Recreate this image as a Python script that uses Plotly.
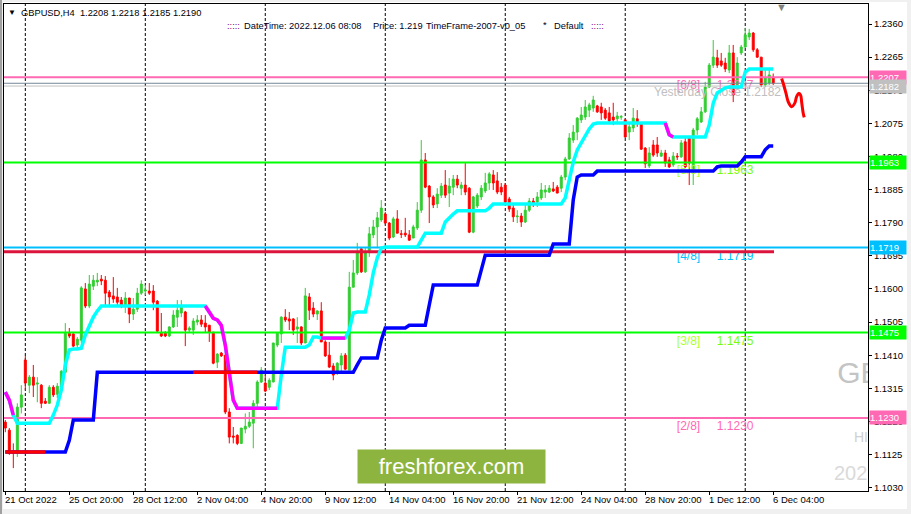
import plotly.graph_objects as go

# ---------------- data (GBPUSD H4, bar index 0 = 21 Oct 2022) ----------------
open_ = [
    1.1218, 1.1195, 1.1135, 1.1129, 1.1261, 1.1396, 1.1324, 1.1347, 1.1327, 1.1324,
    1.1278, 1.1272, 1.1318, 1.1298, 1.1318, 1.1361, 1.1473, 1.1471, 1.1439, 1.1453,
    1.1600, 1.1551, 1.1608, 1.1620, 1.1628, 1.1625, 1.1591, 1.1580, 1.1577, 1.1568,
    1.1554, 1.1574, 1.1528, 1.1542, 1.1588, 1.1594, 1.1594, 1.1594, 1.1565, 1.1473,
    1.1473, 1.1465, 1.1491, 1.1519, 1.1531, 1.1534, 1.1482, 1.1482, 1.1505, 1.1511,
    1.1502, 1.1496, 1.1476, 1.1390, 1.1416, 1.1410, 1.1247, 1.1178, 1.1180, 1.1157,
    1.1198, 1.1206, 1.1215, 1.1272, 1.1333, 1.1330, 1.1318, 1.1333, 1.1439, 1.1471,
    1.1519, 1.1514, 1.1514, 1.1485, 1.1491, 1.1445, 1.1577, 1.1545, 1.1528, 1.1537,
    1.1448, 1.1410, 1.1379, 1.1358, 1.1382, 1.1410, 1.1367, 1.1605, 1.1646, 1.1715,
    1.1649, 1.1706, 1.1755, 1.1778, 1.1798, 1.1815, 1.1789, 1.1749, 1.1801, 1.1758,
    1.1760, 1.1755, 1.1746, 1.1775, 1.1826, 1.1970, 1.1895, 1.1864, 1.1844, 1.1869,
    1.1898, 1.1875, 1.1892, 1.1915, 1.1889, 1.1898, 1.1889, 1.1763, 1.1838, 1.1864,
    1.1881, 1.1904, 1.1927, 1.1910, 1.1892, 1.1898, 1.1858, 1.1832, 1.1807, 1.1809,
    1.1792, 1.1826, 1.1852, 1.1849, 1.1861, 1.1878, 1.1878, 1.1887, 1.1892, 1.1889,
    1.1921, 1.1973, 1.2027, 1.2050, 1.2085, 1.2093, 1.2113, 1.2119, 1.2125, 1.2122,
    1.2113, 1.2105, 1.2093, 1.2088, 1.2093, 1.2085, 1.2050, 1.2062, 1.2088, 1.2076,
    1.2004, 1.1953, 1.2013, 1.2013, 1.1981, 1.1990, 1.1970, 1.1956, 1.1981, 1.1979,
    1.2022, 1.2033, 1.1941, 1.2056, 1.2079, 1.2108, 1.2179, 1.2242, 1.2263, 1.2254,
    1.2248, 1.2228, 1.2277, 1.2179, 1.2277, 1.2294, 1.2323, 1.2334, 1.2286, 1.2265,
    1.2185, 1.2191, 1.2208,
]
high_ = [
    1.1224, 1.1201, 1.1157, 1.1272, 1.1324, 1.1408, 1.1353, 1.1382, 1.1347, 1.1327,
    1.1287, 1.1324, 1.1324, 1.1330, 1.1367, 1.1502, 1.1488, 1.1473, 1.1462, 1.1608,
    1.1617, 1.1640, 1.1640, 1.1646, 1.1640, 1.1637, 1.1597, 1.1634, 1.1603, 1.1577,
    1.1591, 1.1574, 1.1574, 1.1603, 1.1625, 1.1611, 1.1617, 1.1611, 1.1568, 1.1531,
    1.1479, 1.1493, 1.1539, 1.1568, 1.1568, 1.1537, 1.1493, 1.1516, 1.1525, 1.1525,
    1.1525, 1.1496, 1.1476, 1.1416, 1.1419, 1.1410, 1.1258, 1.1204, 1.1183, 1.1201,
    1.1243, 1.1247, 1.1281, 1.1338, 1.1376, 1.1353, 1.1344, 1.1445, 1.1476, 1.1522,
    1.1542, 1.1534, 1.1516, 1.1519, 1.1493, 1.1603, 1.1588, 1.1562, 1.1539, 1.1562,
    1.1453, 1.1448, 1.1387, 1.1390, 1.1416, 1.1416, 1.1649, 1.1683, 1.1732, 1.1720,
    1.1717, 1.1778, 1.1798, 1.1821, 1.1855, 1.1821, 1.1792, 1.1807, 1.1826, 1.1769,
    1.1804, 1.1769, 1.1784, 1.1849, 1.2027, 1.1990, 1.1898, 1.1869, 1.1889, 1.1904,
    1.1941, 1.1918, 1.1927, 1.1927, 1.1907, 1.1961, 1.1892, 1.1867, 1.1875, 1.1898,
    1.1933, 1.1935, 1.1941, 1.1935, 1.1904, 1.1904, 1.1864, 1.1841, 1.1826, 1.1818,
    1.1841, 1.1861, 1.1861, 1.1878, 1.1904, 1.1898, 1.1898, 1.1907, 1.1898, 1.1927,
    1.1979, 1.2047, 1.2070, 1.2093, 1.2122, 1.2142, 1.2134, 1.2154, 1.2128, 1.2134,
    1.2119, 1.2122, 1.2134, 1.2108, 1.2099, 1.2088, 1.2076, 1.2119, 1.2113, 1.2076,
    1.2007, 1.2007, 1.2027, 1.2036, 1.1999, 1.1999, 1.1979, 1.1993, 1.1990, 1.2027,
    1.2036, 1.2036, 1.2062, 1.2093, 1.2122, 1.2194, 1.2248, 1.2314, 1.2286, 1.2277,
    1.2263, 1.2300, 1.2300, 1.2265, 1.2300, 1.2349, 1.2346, 1.2337, 1.2291, 1.2265,
    1.2228, 1.2228, 1.2218,
]
low_ = [
    1.1189, 1.1124, 1.1086, 1.1118, 1.1243, 1.1310, 1.1301, 1.1290, 1.1275, 1.1258,
    1.1270, 1.1270, 1.1290, 1.1287, 1.1315, 1.1358, 1.1459, 1.1433, 1.1425, 1.1445,
    1.1545, 1.1545, 1.1597, 1.1608, 1.1611, 1.1554, 1.1554, 1.1560, 1.1554, 1.1545,
    1.1531, 1.1502, 1.1511, 1.1534, 1.1583, 1.1583, 1.1583, 1.1539, 1.1476, 1.1462,
    1.1462, 1.1462, 1.1488, 1.1491, 1.1519, 1.1436, 1.1476, 1.1468, 1.1496, 1.1491,
    1.1476, 1.1448, 1.1384, 1.1373, 1.1405, 1.1241, 1.1157, 1.1157, 1.1152, 1.1155,
    1.1186, 1.1201, 1.1143, 1.1261, 1.1330, 1.1304, 1.1310, 1.1333, 1.1433, 1.1445,
    1.1505, 1.1482, 1.1468, 1.1445, 1.1439, 1.1445, 1.1511, 1.1519, 1.1511, 1.1448,
    1.1405, 1.1373, 1.1338, 1.1353, 1.1358, 1.1367, 1.1367, 1.1605, 1.1640, 1.1646,
    1.1646, 1.1692, 1.1746, 1.1717, 1.1792, 1.1784, 1.1740, 1.1746, 1.1760, 1.1746,
    1.1749, 1.1738, 1.1746, 1.1769, 1.1818, 1.1889, 1.1789, 1.1832, 1.1832, 1.1861,
    1.1861, 1.1835, 1.1869, 1.1889, 1.1869, 1.1869, 1.1760, 1.1760, 1.1832, 1.1855,
    1.1875, 1.1884, 1.1884, 1.1872, 1.1869, 1.1846, 1.1821, 1.1792, 1.1789, 1.1778,
    1.1789, 1.1821, 1.1835, 1.1835, 1.1855, 1.1861, 1.1875, 1.1878, 1.1875, 1.1878,
    1.1912, 1.1970, 1.2019, 1.2027, 1.2076, 1.2085, 1.2093, 1.2108, 1.2105, 1.2085,
    1.2085, 1.2076, 1.2070, 1.2076, 1.2085, 1.2033, 1.2027, 1.2050, 1.2065, 1.1999,
    1.1947, 1.1947, 1.1979, 1.1979, 1.1979, 1.1950, 1.1947, 1.1950, 1.1970, 1.1976,
    1.1947, 1.1898, 1.1898, 1.2042, 1.2076, 1.2105, 1.2176, 1.2234, 1.2234, 1.2237,
    1.2222, 1.2219, 1.2136, 1.2171, 1.2271, 1.2291, 1.2314, 1.2280, 1.2263, 1.2179,
    1.2179, 1.2185, 1.2185,
]
close_ = [
    1.1201, 1.1129, 1.1129, 1.1261, 1.1296, 1.1330, 1.1347, 1.1324, 1.1330, 1.1272,
    1.1272, 1.1318, 1.1296, 1.1321, 1.1364, 1.1473, 1.1465, 1.1436, 1.1456, 1.1603,
    1.1551, 1.1614, 1.1625, 1.1625, 1.1623, 1.1588, 1.1577, 1.1571, 1.1562, 1.1554,
    1.1574, 1.1528, 1.1542, 1.1588, 1.1614, 1.1597, 1.1588, 1.1562, 1.1479, 1.1465,
    1.1465, 1.1491, 1.1525, 1.1539, 1.1548, 1.1482, 1.1488, 1.1508, 1.1511, 1.1499,
    1.1491, 1.1476, 1.1387, 1.1413, 1.1408, 1.1247, 1.1175, 1.1175, 1.1157, 1.1201,
    1.1206, 1.1218, 1.1272, 1.1333, 1.1367, 1.1307, 1.1338, 1.1445, 1.1473, 1.1519,
    1.1511, 1.1508, 1.1482, 1.1491, 1.1445, 1.1580, 1.1539, 1.1528, 1.1537, 1.1448,
    1.1408, 1.1376, 1.1353, 1.1387, 1.1408, 1.1370, 1.1605, 1.1646, 1.1706, 1.1649,
    1.1706, 1.1758, 1.1778, 1.1804, 1.1832, 1.1789, 1.1746, 1.1801, 1.1760, 1.1757,
    1.1755, 1.1740, 1.1778, 1.1826, 1.1970, 1.1892, 1.1864, 1.1841, 1.1872, 1.1895,
    1.1869, 1.1895, 1.1915, 1.1898, 1.1898, 1.1878, 1.1763, 1.1864, 1.1869, 1.1889,
    1.1904, 1.1930, 1.1904, 1.1878, 1.1878, 1.1849, 1.1829, 1.1807, 1.1809, 1.1792,
    1.1826, 1.1852, 1.1846, 1.1864, 1.1884, 1.1884, 1.1889, 1.1881, 1.1875, 1.1921,
    1.1973, 1.2033, 1.2050, 1.2090, 1.2099, 1.2122, 1.2128, 1.2142, 1.2108, 1.2105,
    1.2090, 1.2082, 1.2085, 1.2096, 1.2094, 1.2036, 1.2065, 1.2090, 1.2076, 1.2001,
    1.1959, 1.1990, 1.1984, 1.1990, 1.1990, 1.1961, 1.1950, 1.1981, 1.1979, 1.2019,
    1.1950, 1.1961, 1.2056, 1.2088, 1.2108, 1.2179, 1.2242, 1.2265, 1.2242, 1.2242,
    1.2231, 1.2277, 1.2156, 1.2248, 1.2294, 1.2329, 1.2334, 1.2286, 1.2265, 1.2185,
    1.2205, 1.2214, 1.2190,
]
bar_index = list(range(len(close_)))

# trailing-line indicator (cyan, magenta while falling)
trail_line = [
    1.1304, 1.1281, 1.1238,
    1.1215, 1.1215, 1.1215, 1.1215, 1.1215, 1.1215, 1.1215, 1.1215, 1.1215,
    1.1238, 1.1267, 1.1310, 1.1382, 1.1425, 1.1428, 1.1428, 1.1430, 1.1468, 1.1496, 1.1519, 1.1537,
    1.1551, 1.1551, 1.1551, 1.1551, 1.1551, 1.1551, 1.1551, 1.1551, 1.1551, 1.1551,
    1.1551, 1.1551, 1.1551, 1.1551, 1.1551, 1.1551, 1.1551, 1.1551, 1.1551, 1.1551,
    1.1551, 1.1551, 1.1551, 1.1551, 1.1551, 1.1551, 1.1551,
    1.1534, 1.1516, 1.1511, 1.1496, 1.1439, 1.1353, 1.1281,
    1.1258, 1.1258, 1.1258, 1.1258, 1.1258, 1.1258, 1.1258, 1.1258, 1.1258, 1.1258, 1.1258,
    1.1353,
    1.1433, 1.1433, 1.1433, 1.1433, 1.1433, 1.1433,
    1.1439, 1.1462, 1.1462,
    1.1459, 1.1459, 1.1459, 1.1459, 1.1459, 1.1459, 1.1459,
    1.1482, 1.1531,
    1.1534, 1.1534, 1.1534,
    1.1583, 1.1646, 1.1689, 1.1717,
    1.1720, 1.1720, 1.1720, 1.1720, 1.1720, 1.1720, 1.1720, 1.1720, 1.1720,
    1.1740,
    1.1760, 1.1760, 1.1760, 1.1760, 1.1760,
    1.1792, 1.1804, 1.1815,
    1.1824, 1.1824, 1.1824, 1.1824, 1.1824, 1.1824, 1.1824, 1.1824,
    1.1832,
    1.1844, 1.1844, 1.1844, 1.1844, 1.1844, 1.1844, 1.1844, 1.1844, 1.1844,
    1.1844, 1.1844, 1.1844, 1.1844, 1.1844, 1.1844, 1.1844, 1.1844, 1.1844,
    1.1861, 1.1912, 1.1964, 1.1999, 1.2019, 1.2036, 1.2059, 1.2073,
    1.2076, 1.2076, 1.2076, 1.2076, 1.2076, 1.2076, 1.2076, 1.2076, 1.2076,
    1.2076, 1.2076, 1.2076, 1.2076, 1.2076, 1.2076, 1.2076, 1.2076, 1.2076,
    1.2042,
    1.2036, 1.2036, 1.2036, 1.2036, 1.2036, 1.2036, 1.2036, 1.2036, 1.2036,
    1.2070, 1.2133, 1.2162, 1.2171, 1.2177,
    1.2179, 1.2179, 1.2179, 1.2179,
    1.2222,
    1.2231, 1.2231, 1.2231, 1.2231, 1.2231, 1.2231, 1.2231,
]
trail_down_ranges = [(0, 2), (50, 68), (79, 85), (165, 167)]

# step indicator (blue, red while in sell state)
step_line = [
    1.1132, 1.1132, 1.1132, 1.1132, 1.1132, 1.1132, 1.1132, 1.1132,
    1.1132, 1.1132, 1.1132, 1.1132, 1.1132, 1.1132, 1.1132, 1.1132,
    1.1166,
    1.1224, 1.1224, 1.1224, 1.1224, 1.1224, 1.1224,
    1.1361, 1.1361, 1.1361, 1.1361, 1.1361, 1.1361, 1.1361, 1.1361, 1.1361, 1.1361,
    1.1361, 1.1361, 1.1361, 1.1361, 1.1361, 1.1361, 1.1361, 1.1361, 1.1361, 1.1361,
    1.1361, 1.1361, 1.1361, 1.1361, 1.1361, 1.1361, 1.1361, 1.1361, 1.1361, 1.1361,
    1.1361, 1.1361, 1.1361, 1.1361, 1.1361, 1.1361, 1.1361, 1.1361, 1.1361, 1.1361,
    1.1361, 1.1361, 1.1361, 1.1361, 1.1361, 1.1361, 1.1361, 1.1361, 1.1361, 1.1361,
    1.1361, 1.1361, 1.1361, 1.1361, 1.1361, 1.1361, 1.1361, 1.1361, 1.1361, 1.1361,
    1.1361, 1.1361, 1.1361, 1.1361, 1.1361,
    1.1382,
    1.1402, 1.1402, 1.1402, 1.1402, 1.1402,
    1.1453,
    1.1488, 1.1488, 1.1488, 1.1488, 1.1488, 1.1488,
    1.1496, 1.1496, 1.1496, 1.1496, 1.1496,
    1.1554,
    1.1611, 1.1611, 1.1611, 1.1611, 1.1611, 1.1611, 1.1611, 1.1611, 1.1611, 1.1611, 1.1611, 1.1611,
    1.1654,
    1.1697, 1.1697, 1.1697, 1.1697, 1.1697, 1.1697, 1.1697, 1.1697, 1.1697,
    1.1697, 1.1697, 1.1697, 1.1697, 1.1697, 1.1697, 1.1697, 1.1697,
    1.1729, 1.1729, 1.1729, 1.1729, 1.1729,
    1.1855, 1.1921,
    1.1927, 1.1927, 1.1927, 1.1927,
    1.1938, 1.1938, 1.1938, 1.1938, 1.1938, 1.1938, 1.1938, 1.1938, 1.1938, 1.1938,
    1.1938, 1.1938, 1.1938, 1.1938, 1.1938, 1.1938, 1.1938, 1.1938, 1.1938, 1.1938,
    1.1938, 1.1938, 1.1938, 1.1938, 1.1938, 1.1938, 1.1938, 1.1938, 1.1938, 1.1938,
    1.1950, 1.1953, 1.1953, 1.1953, 1.1953, 1.1953,
    1.1964,
    1.1979, 1.1979, 1.1979, 1.1979, 1.1979,
    1.1999,
    1.2010, 1.2010,
]
step_sell_ranges = [(0, 10), (47, 63)]

# forecast path drawn to the right of the last bar
forecast_x = [194.1, 194.5, 195.2, 195.75, 196.6, 197.4, 197.85, 198.4, 198.85, 199.1, 199.5, 199.75]
forecast_y = [1.2204, 1.2190, 1.2161, 1.2137, 1.2123, 1.2133, 1.2152, 1.2161, 1.2156, 1.2137, 1.2104, 1.2092]

# Murrey-style levels
level_names = ["[6/8]", "[5/8]", "[4/8]", "[3/8]", "[2/8]"]
level_prices = [1.2207, 1.1963, 1.1719, 1.1475, 1.1230]
level_colors = ["#ff69b4", "#00ff00", "#00bfff", "#00ff00", "#ff69b4"]
level_name_colors = ["#ff69b4", "#adff2f", "#00bfff", "#adff2f", "#ff69b4"]
level_value_colors = ["#ff69b4", "#7cfc00", "#00bfff", "#7cfc00", "#ff69b4"]
yesterday_close = 1.2182
bid_price = 1.2190
trend_level = 1.1707

y_ticks = [1.1030, 1.1125, 1.1220, 1.1315, 1.1410, 1.1505, 1.1600, 1.1695,
           1.1790, 1.1885, 1.1980, 1.2075, 1.2170, 1.2265, 1.2360]
x_tick_idx = [0, 16, 32, 48, 64, 80, 96, 112, 128, 144, 160, 176, 192]
x_tick_labels = ["21 Oct 2022", "25 Oct 20:00", "28 Oct 12:00", "2 Nov 04:00", "4 Nov 20:00",
                 "9 Nov 12:00", "14 Nov 04:00", "16 Nov 20:00", "21 Nov 12:00", "24 Nov 04:00",
                 "28 Nov 20:00", "1 Dec 12:00", "6 Dec 04:00"]
separator_idx = [5, 35, 65, 95, 125, 155, 185]

# ---------------- layout geometry ----------------
W, H = 911, 514
ML, MR, MT, MB = 4, 43, 4, 23
PW, PH = W - ML - MR, H - MT - MB
XR = [-0.33, 215.7]
YR = [1.10204, 1.24174]
FONT = "Liberation Sans, Arial, sans-serif"
LABEL_DROP = 0.0026
NAME_X, VALUE_X, YC_X = 167.9, 177.9, 162.2


def pxx(px):
    return (px - ML) / PW


def pxy(py):
    return (H - MB - py) / PH


fig = go.Figure()

# faded background texts at the right edge (clipped by the plot area)
fig.add_trace(go.Scatter(
    x=[208.0, 212.2, 207.2], y=[1.1353, 1.1172, 1.1066],
    mode="text", text=["GBPUSD", "HIGH", "2022.12.06"], textposition="middle right",
    textfont=dict(family=FONT, size=[30, 14, 20], color=["#c4c4c4", "#d0d0d0", "#dadada"]),
    cliponaxis=True, hoverinfo="skip"))

# level labels (under candles)
fig.add_trace(go.Scatter(
    x=[NAME_X] * len(level_prices), y=[p - LABEL_DROP for p in level_prices],
    mode="text", text=level_names, textposition="middle right",
    textfont=dict(family=FONT, size=12, color=level_name_colors), hoverinfo="skip"))
fig.add_trace(go.Scatter(
    x=[VALUE_X] * len(level_prices), y=[p - LABEL_DROP for p in level_prices],
    mode="text", text=[f"{p:.4f}" for p in level_prices], textposition="middle right",
    textfont=dict(family=FONT, size=12, color=level_value_colors), hoverinfo="skip"))
fig.add_trace(go.Scatter(
    x=[YC_X], y=[yesterday_close - 0.0020],
    mode="text", text=[f"Yesterday Close {yesterday_close:.4f}"], textposition="middle right",
    textfont=dict(family=FONT, size=12, color="#c0c0c0"), hoverinfo="skip"))

# candles
fig.add_trace(go.Candlestick(
    x=bar_index, open=open_, high=high_, low=low_, close=close_,
    increasing=dict(line=dict(color="#32cd32", width=1), fillcolor="#32cd32"),
    decreasing=dict(line=dict(color="#ff0000", width=1), fillcolor="#ff0000"),
    whiskerwidth=0, hoverinfo="skip"))

# horizontal levels
for p, c in zip(level_prices, level_colors):
    fig.add_trace(go.Scatter(x=XR, y=[p, p], mode="lines", line=dict(color=c, width=2), hoverinfo="skip"))
fig.add_trace(go.Scatter(x=XR, y=[yesterday_close] * 2, mode="lines", line=dict(color="#c0c0c0", width=1), hoverinfo="skip"))
fig.add_trace(go.Scatter(x=XR, y=[bid_price] * 2, mode="lines", line=dict(color="#778899", width=1), hoverinfo="skip"))
fig.add_trace(go.Scatter(x=[XR[0], bar_index[-1] + 0.2], y=[trend_level] * 2, mode="lines",
                         line=dict(color="#dc143c", width=3), hoverinfo="skip"))

# trailing line
fig.add_trace(go.Scatter(x=bar_index, y=trail_line, mode="lines", line=dict(color="#00ffff", width=3.5), hoverinfo="skip"))
for a, b in trail_down_ranges:
    fig.add_trace(go.Scatter(x=bar_index[a:b + 1], y=trail_line[a:b + 1], mode="lines",
                             line=dict(color="#ff00ff", width=3.5), hoverinfo="skip"))

# step line
fig.add_trace(go.Scatter(x=bar_index, y=step_line, mode="lines", line=dict(color="#0000ff", width=3.5), hoverinfo="skip"))
for a, b in step_sell_ranges:
    fig.add_trace(go.Scatter(x=bar_index[a:b + 1], y=step_line[a:b + 1], mode="lines",
                             line=dict(color="#ff0000", width=3.5), hoverinfo="skip"))

# forecast
fig.add_trace(go.Scatter(x=forecast_x, y=forecast_y, mode="lines",
                         line=dict(color="#ff0000", width=3, shape="spline"), hoverinfo="skip"))

# ---------------- shapes ----------------
shapes = [
    dict(type="rect", xref="paper", yref="paper", x0=pxx(3), x1=pxx(907), y0=pxy(509), y1=pxy(2),
         fillcolor="white", line=dict(width=0), layer="below"),
    dict(type="rect", xref="paper", yref="paper", x0=pxx(0), x1=pxx(2), y0=pxy(514), y1=pxy(0),
         fillcolor="#a0a0a0", line=dict(width=0), layer="below"),
]
for s in separator_idx:
    shapes.append(dict(type="line", xref="x", yref="paper", x0=s, x1=s, y0=0, y1=1,
                       line=dict(color="black", width=1, dash="3px,2px"), layer="below"))

# ---------------- annotations ----------------
ann = []
# x-axis labels (left aligned to ticks, MT4 style)
for i, t in zip(x_tick_idx, x_tick_labels):
    ann.append(dict(x=i, xref="x", y=0, yref="paper", text=t, showarrow=False, xanchor="left",
                    yanchor="top", xshift=-1, yshift=-2, borderpad=0,
                    font=dict(family=FONT, size=9.5, color="black")))
# price tags on the right axis
tag_items = [(level_prices[0], "#ff69b4"), (yesterday_close, "#c0c0c0"), (level_prices[1], "#00ff00"),
             (level_prices[2], "#00bfff"), (level_prices[3], "#00ff00"), (level_prices[4], "#ff69b4")]
for p, c in tag_items:
    ann.append(dict(x=1, xref="paper", y=p, yref="y", text=f"{p:.4f}", showarrow=False, xanchor="left",
                    yanchor="middle", xshift=1, width=36, height=13, align="left", bgcolor=c, borderpad=0,
                    font=dict(family=FONT, size=9.5, color="white")))
# header
hdr = f"GBPUSD,H4\u00a0\u00a0{open_[-1]:.4f} {high_[-1]:.4f} {low_[-1]:.4f} {close_[-1]:.4f}"
header_items = [
    ("\u25bc", 7, 13, "black", 8),
    (hdr, 20, 13, "black", 9.3),
    (":::::", 226, 26, "#800080", 9.3),
    ("DateTime: 2022.12.06 08:08", 243, 26, "#000022", 9.3),
    ("Price: 1.219", 372, 26, "#000022", 9.3),
    ("TimeFrame-2007-v0_05", 425, 26, "#000022", 9.3),
    ("*", 542, 25, "#000022", 9.3),
    ("Default", 553, 26, "#000022", 9.3),
    (":::::", 590, 26, "#800080", 9.3),
    ("\u25bc", 775, 7, "#808080", 11),
]
for t, x, y, c, s in header_items:
    ann.append(dict(x=pxx(x), xref="paper", y=pxy(y), yref="paper", text=t, showarrow=False,
                    xanchor="left", yanchor="middle", borderpad=0, font=dict(family=FONT, size=s, color=c)))
# watermark
ann.append(dict(x=pxx(451.5), xref="paper", y=pxy(466.5), yref="paper", text="freshforex.com",
                showarrow=False, xanchor="center", yanchor="middle", width=187, height=33,
                bgcolor="#8db43e", borderpad=0, font=dict(family=FONT, size=22, color="white")))

fig.update_layout(
    width=W, height=H, template="none",
    margin=dict(l=ML, r=MR, t=MT, b=MB, pad=0),
    paper_bgcolor="#f0f0f0", plot_bgcolor="white",
    showlegend=False, hovermode=False,
    font=dict(family=FONT, size=10, color="black"),
    shapes=shapes, annotations=ann,
    xaxis=dict(range=XR, showgrid=False, zeroline=False, showline=True, mirror=True,
               linecolor="black", linewidth=1, tickvals=x_tick_idx, showticklabels=False,
               ticks="outside", ticklen=3, tickcolor="black", rangeslider=dict(visible=False),
               automargin=False, fixedrange=True),
    yaxis=dict(range=YR, side="right", showgrid=False, zeroline=False, showline=True, mirror=True,
               linecolor="black", linewidth=1, tickvals=y_ticks, ticktext=[f"{v:.4f}" for v in y_ticks],
               ticks="outside", ticklen=3, tickcolor="black", tickfont=dict(family=FONT, size=9.5, color="black"),
               automargin=False, fixedrange=True),
)

fig.write_html(
    "out.html",
    config={"displayModeBar": False, "staticPlot": True},
    post_script="document.body.style.margin='0';document.body.style.padding='0';document.body.style.overflow='hidden';",
)
